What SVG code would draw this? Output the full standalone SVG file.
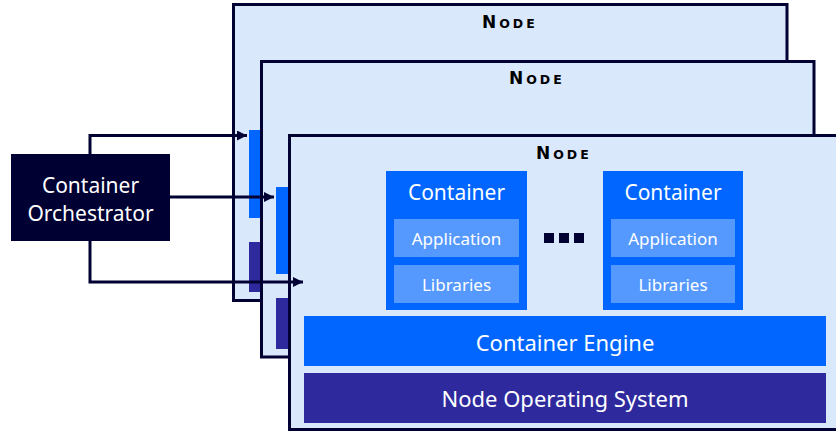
<svg xmlns="http://www.w3.org/2000/svg" width="836" height="431" viewBox="0 0 836 431">
<defs>
<style>
.node{fill:#DAE8FC;stroke:#000033;stroke-width:3}
.blue{fill:#0066FF}
.purple{fill:#2E2A9E}
.sub{fill:#5599FF}
.t{font-family:"Noto Sans","DejaVu Sans",sans-serif;fill:#FFFFFF;text-anchor:middle}
.nt{font-family:"DejaVu Sans","Noto Sans",sans-serif;font-weight:bold;fill:#000000;letter-spacing:3px}
.conn{fill:none;stroke:#000033;stroke-width:3}
</style>
<marker id="arr" viewBox="0 0 10 10" refX="10" refY="5" markerWidth="10" markerHeight="10" markerUnits="userSpaceOnUse" orient="auto">
<path d="M0,0 L10,5 L0,10 Z" fill="#000033"/>
</marker>
</defs>
<g id="node1">
<rect class="node" x="233.5" y="4.5" width="553.5" height="296"/>
<text class="nt" x="482" y="28"><tspan font-size="17">N</tspan><tspan font-size="12.5">ODE</tspan></text>
<rect class="blue" x="249" y="130" width="12" height="88"/>
<rect class="purple" x="249" y="242" width="12" height="50"/>
</g>
<g id="node2">
<rect class="node" x="261.5" y="61.5" width="552.5" height="295.5"/>
<text class="nt" x="509" y="84"><tspan font-size="17">N</tspan><tspan font-size="12.5">ODE</tspan></text>
<rect class="blue" x="276" y="187" width="12" height="87"/>
<rect class="purple" x="276" y="298" width="12" height="51"/>
</g>
<g id="node3">
<rect class="node" x="289.5" y="135.5" width="560" height="294"/>
<text class="nt" x="536" y="159"><tspan font-size="17">N</tspan><tspan font-size="12.5">ODE</tspan></text>
</g>
<g id="container1">
<rect class="blue" x="386" y="171" width="141" height="139"/>
<text class="t" x="456.5" y="200" font-size="21">Container</text>
<rect class="sub" x="394" y="219" width="125" height="38"/>
<text class="t" x="456.5" y="245" font-size="17">Application</text>
<rect class="sub" x="394" y="265" width="125" height="38"/>
<text class="t" x="456.5" y="291" font-size="17">Libraries</text>
</g>
<g id="dots" fill="#000033">
<rect x="544" y="233" width="10" height="10"/>
<rect x="559" y="233" width="10" height="10"/>
<rect x="574" y="233" width="10" height="10"/>
</g>
<g id="container2">
<rect class="blue" x="603" y="171" width="140" height="139"/>
<text class="t" x="673" y="200" font-size="21">Container</text>
<rect class="sub" x="611" y="219" width="124" height="38"/>
<text class="t" x="673" y="245" font-size="17">Application</text>
<rect class="sub" x="611" y="265" width="124" height="38"/>
<text class="t" x="673" y="291" font-size="17">Libraries</text>
</g>
<g id="engine">
<rect class="blue" x="304" y="316" width="522" height="50"/>
<text class="t" x="565" y="351" font-size="22">Container Engine</text>
</g>
<g id="os">
<rect class="purple" x="304" y="373" width="522" height="50"/>
<text class="t" x="565" y="407" font-size="22">Node Operating System</text>
</g>
<g id="orchestrator">
<rect x="11" y="154" width="159" height="87" fill="#000033"/>
<text class="t" x="90.5" y="193" font-size="21">Container</text>
<text class="t" x="90.5" y="221" font-size="21">Orchestrator</text>
</g>
<g id="connectors">
<path class="conn" d="M90,154 V135.5 H247" marker-end="url(#arr)"/>
<path class="conn" d="M170,197 H274" marker-end="url(#arr)"/>
<path class="conn" d="M90,241 V282 H303" marker-end="url(#arr)"/>
</g>
</svg>
